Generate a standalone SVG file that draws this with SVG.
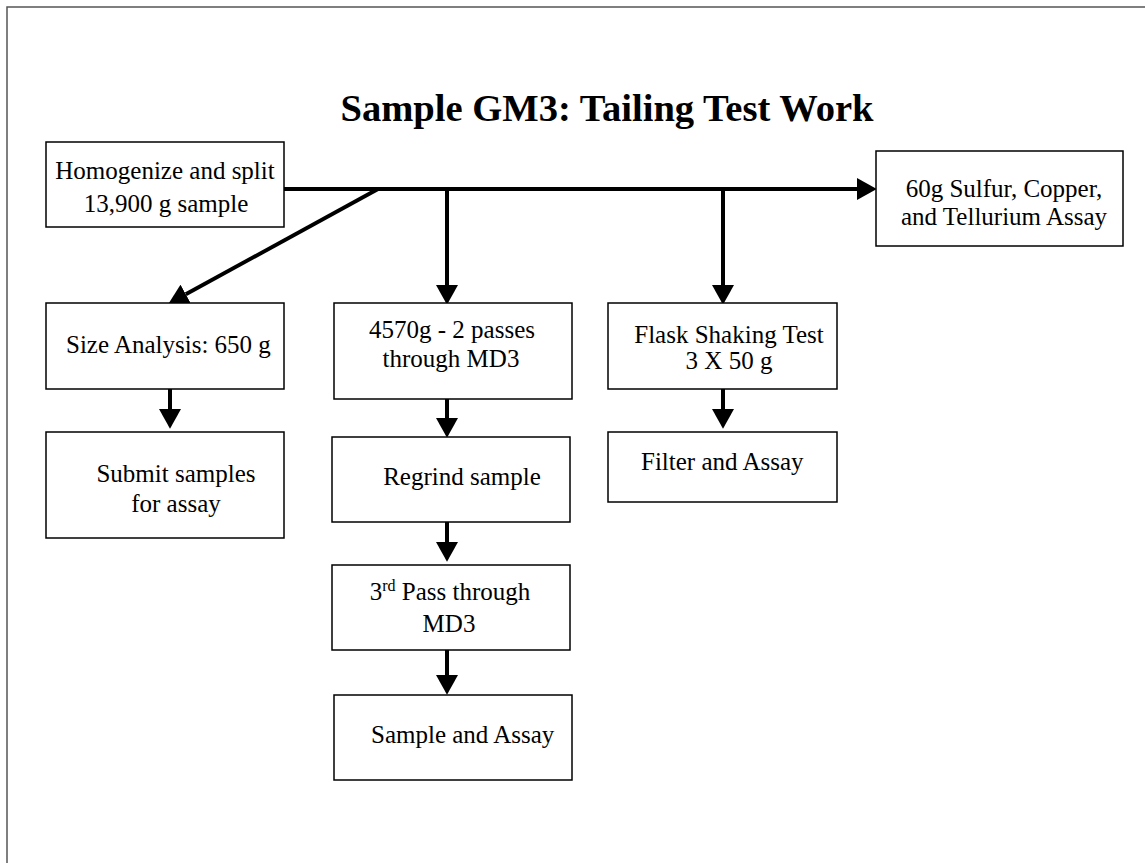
<svg xmlns="http://www.w3.org/2000/svg" width="1145" height="863" viewBox="0 0 1145 863">
<style>
.box{fill:#fff;stroke:#000;stroke-width:1.5}
.t{font-family:"Liberation Serif","Times New Roman",serif;font-size:25px;fill:#000}
.c{text-anchor:middle}
.con{stroke:#000;stroke-width:4;fill:none}
.title{font-family:"Liberation Serif","Times New Roman",serif;font-size:38.6px;font-weight:bold;text-anchor:middle;fill:#000}
</style>
<defs>
<marker id="ah" markerUnits="userSpaceOnUse" markerWidth="20" markerHeight="22" refX="0" refY="10" orient="auto" viewBox="0 0 18 20">
<path d="M0,0 L18,10 L0,20 z" fill="#000"/>
</marker>
</defs>
<rect x="0" y="0" width="1145" height="863" fill="#fff"/>
<rect x="7" y="7" width="1150" height="870" fill="none" stroke="#555" stroke-width="1.5"/>
<text class="title" x="607" y="121">Sample GM3: Tailing Test Work</text>
<g id="connectors">
<line class="con" x1="284" y1="189" x2="857" y2="189" marker-end="url(#ah)"/>
<line class="con" x1="378" y1="189" x2="185.8" y2="294.3" marker-end="url(#ah)"/>
<line class="con" x1="447" y1="187" x2="447" y2="285" marker-end="url(#ah)"/>
<line class="con" x1="723" y1="187" x2="723" y2="285" marker-end="url(#ah)"/>
<line class="con" x1="170" y1="389" x2="170" y2="409" marker-end="url(#ah)"/>
<line class="con" x1="447" y1="399" x2="447" y2="418" marker-end="url(#ah)"/>
<line class="con" x1="723" y1="389" x2="723" y2="409" marker-end="url(#ah)"/>
<line class="con" x1="447" y1="522" x2="447" y2="542" marker-end="url(#ah)"/>
<line class="con" x1="447" y1="646" x2="447" y2="675" marker-end="url(#ah)"/>
</g>
<g id="n-homogenize">
<rect class="box" x="46" y="142" width="238" height="85"/>
<text class="t c" x="165" y="179">Homogenize and split</text>
<text class="t c" x="166" y="212">13,900 g sample</text>
</g>
<g id="n-60g">
<rect class="box" x="876" y="151" width="247" height="95"/>
<text class="t c" x="1004" y="197">60g Sulfur, Copper,</text>
<text class="t c" x="1004" y="225">and Tellurium Assay</text>
</g>
<g id="n-size">
<rect class="box" x="46" y="303" width="238" height="86"/>
<text class="t" x="66" y="353">Size Analysis: 650 g</text>
</g>
<g id="n-submit">
<rect class="box" x="46" y="432" width="238" height="106"/>
<text class="t c" x="176" y="482">Submit samples</text>
<text class="t c" x="176" y="512">for assay</text>
</g>
<g id="n-4570">
<rect class="box" x="334" y="303" width="238" height="96"/>
<text class="t c" x="452" y="338">4570g - 2 passes</text>
<text class="t c" x="451" y="367">through MD3</text>
</g>
<g id="n-regrind">
<rect class="box" x="332" y="437" width="238" height="85"/>
<text class="t c" x="462" y="485">Regrind sample</text>
</g>
<g id="n-3rd">
<rect class="box" x="332" y="565" width="238" height="85"/>
<text class="t c" x="450" y="600">3<tspan font-size="16" dy="-9">rd</tspan><tspan dy="9"> Pass through</tspan></text>
<text class="t c" x="449" y="632">MD3</text>
</g>
<g id="n-sampleassay">
<rect class="box" x="334" y="695" width="238" height="85"/>
<text class="t" x="371" y="743">Sample and Assay</text>
</g>
<g id="n-flask">
<rect class="box" x="608" y="303" width="229" height="86"/>
<text class="t c" x="729" y="343">Flask Shaking Test</text>
<text class="t c" x="729" y="369">3 X 50 g</text>
</g>
<g id="n-filter">
<rect class="box" x="608" y="432" width="229" height="70"/>
<text class="t" x="641" y="470">Filter and Assay</text>
</g>
</svg>
